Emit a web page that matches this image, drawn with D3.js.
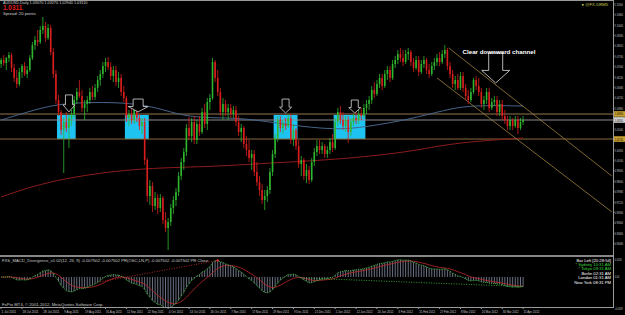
<!DOCTYPE html>
<html>
<head>
<meta charset="utf-8">
<script src="https://cdn.jsdelivr.net/npm/d3@7"></script>
<style>
  html, body { margin: 0; padding: 0; background: #000; overflow: hidden; }
  svg { display: block; font-family: "Liberation Sans", Arial, sans-serif; }
</style>
</head>
<body>
<div id="vis"></div>
<script>
'use strict'

////////////////////////////////////////
/////////////// Data ///////////////////
////////////////////////////////////////

// AUDUSD daily bars, 1 Jul 2011 -> 11 Apr 2012
const opens = [
  1.0720, 1.0749, 1.0727, 1.0764, 1.0785, 1.0691, 1.0618, 1.0574, 1.0661, 1.0705,
  1.0647, 1.0676, 1.0764, 1.0858, 1.0895, 1.0880, 1.0968, 1.0997, 1.0910, 1.0983,
  1.0807, 1.0647, 1.0457, 1.0369, 1.0238, 1.0296, 1.0253, 1.0326, 1.0355, 1.0457,
  1.0515, 1.0486, 1.0399, 1.0428, 1.0457, 1.0515, 1.0479, 1.0545, 1.0603, 1.0647,
  1.0705, 1.0734, 1.0698, 1.0632, 1.0676, 1.0588, 1.0618, 1.0515, 1.0472, 1.0326,
  1.0355, 1.0311, 1.0384, 1.0326, 1.0267, 1.0296, 1.0019, 0.9756, 0.9829, 0.9683,
  0.9742, 0.9669, 0.9742, 0.9581, 0.9523, 0.9566, 0.9669, 0.9727, 0.9785, 0.9902,
  1.0004, 1.0077, 1.0253, 1.0194, 1.0296, 1.0165, 1.0282, 1.0223, 1.0369, 1.0282,
  1.0442, 1.0472, 1.0734, 1.0618, 1.0515, 1.0369, 1.0428, 1.0369, 1.0399, 1.0355,
  1.0384, 1.0296, 1.0223, 1.0253, 1.0136, 1.0092, 1.0034, 1.0063, 0.9931, 0.9858,
  0.9800, 0.9727, 0.9756, 0.9800, 0.9931, 1.0063, 1.0180, 1.0311, 1.0253, 1.0282,
  1.0267, 1.0326, 1.0165, 1.0238, 1.0121, 0.9990, 1.0019, 0.9902, 0.9946, 0.9873,
  1.0004, 1.0077, 1.0121, 1.0092, 1.0121, 1.0063, 1.0092, 1.0150, 1.0107, 1.0296,
  1.0369, 1.0311, 1.0267, 1.0311, 1.0223, 1.0296, 1.0326, 1.0311, 1.0355, 1.0340,
  1.0399, 1.0428, 1.0457, 1.0530, 1.0501, 1.0574, 1.0618, 1.0559, 1.0647, 1.0676,
  1.0618, 1.0720, 1.0749, 1.0793, 1.0764, 1.0734, 1.0793, 1.0807, 1.0734, 1.0691,
  1.0749, 1.0661, 1.0720, 1.0749, 1.0676, 1.0647, 1.0705, 1.0734, 1.0764, 1.0734,
  1.0793, 1.0822, 1.0705, 1.0647, 1.0574, 1.0603, 1.0545, 1.0632, 1.0545, 1.0486,
  1.0457, 1.0515, 1.0603, 1.0559, 1.0515, 1.0428, 1.0457, 1.0515, 1.0399, 1.0442,
  1.0457, 1.0369, 1.0428, 1.0340, 1.0311, 1.0267, 1.0311, 1.0267, 1.0311, 1.0253,
  1.0296
];
const highs = [
  1.0764, 1.0785, 1.0771, 1.0807, 1.0800, 1.0720, 1.0676, 1.0691, 1.0720, 1.0734,
  1.0705, 1.0785, 1.0880, 1.0924, 1.0968, 1.0997, 1.1063, 1.1026, 1.1012, 1.1005,
  1.0837, 1.0676, 1.0494, 1.0384, 1.0326, 1.0369, 1.0348, 1.0384, 1.0486, 1.0545,
  1.0603, 1.0530, 1.0457, 1.0486, 1.0545, 1.0559, 1.0574, 1.0632, 1.0676, 1.0734,
  1.0764, 1.0771, 1.0734, 1.0705, 1.0705, 1.0661, 1.0647, 1.0559, 1.0486, 1.0384,
  1.0399, 1.0413, 1.0413, 1.0355, 1.0326, 1.0326, 1.0034, 0.9873, 0.9858, 0.9785,
  0.9771, 0.9771, 0.9756, 0.9639, 0.9596, 0.9698, 0.9756, 0.9815, 0.9931, 1.0034,
  1.0107, 1.0282, 1.0333, 1.0326, 1.0340, 1.0311, 1.0340, 1.0399, 1.0428, 1.0472,
  1.0501, 1.0764, 1.0749, 1.0676, 1.0545, 1.0472, 1.0457, 1.0428, 1.0428, 1.0413,
  1.0413, 1.0340, 1.0282, 1.0267, 1.0194, 1.0165, 1.0092, 1.0092, 1.0004, 0.9902,
  0.9844, 0.9800, 0.9829, 0.9961, 1.0092, 1.0209, 1.0340, 1.0340, 1.0311, 1.0326,
  1.0355, 1.0355, 1.0282, 1.0253, 1.0165, 1.0048, 1.0034, 0.9990, 0.9975, 1.0034,
  1.0107, 1.0165, 1.0165, 1.0150, 1.0136, 1.0121, 1.0180, 1.0209, 1.0326, 1.0399,
  1.0413, 1.0369, 1.0340, 1.0340, 1.0326, 1.0355, 1.0369, 1.0384, 1.0399, 1.0428,
  1.0457, 1.0486, 1.0559, 1.0588, 1.0603, 1.0647, 1.0647, 1.0676, 1.0705, 1.0705,
  1.0749, 1.0778, 1.0822, 1.0837, 1.0822, 1.0822, 1.0837, 1.0822, 1.0764, 1.0778,
  1.0778, 1.0749, 1.0778, 1.0764, 1.0720, 1.0734, 1.0764, 1.0793, 1.0807, 1.0822,
  1.0858, 1.0837, 1.0734, 1.0676, 1.0632, 1.0647, 1.0661, 1.0661, 1.0574, 1.0530,
  1.0545, 1.0618, 1.0632, 1.0618, 1.0545, 1.0486, 1.0545, 1.0545, 1.0472, 1.0486,
  1.0486, 1.0457, 1.0457, 1.0384, 1.0340, 1.0340, 1.0326, 1.0340, 1.0340, 1.0326,
  1.0340
];
const lows = [
  1.0691, 1.0705, 1.0676, 1.0734, 1.0661, 1.0588, 1.0545, 1.0559, 1.0618, 1.0632,
  1.0618, 1.0661, 1.0749, 1.0822, 1.0851, 1.0866, 1.0939, 1.0880, 1.0895, 1.0785,
  1.0618, 1.0428, 1.0340, 1.0202, 0.9924, 1.0223, 1.0107, 1.0267, 1.0326, 1.0428,
  1.0472, 1.0369, 1.0311, 1.0369, 1.0428, 1.0457, 1.0457, 1.0515, 1.0559, 1.0618,
  1.0661, 1.0676, 1.0603, 1.0588, 1.0559, 1.0545, 1.0486, 1.0442, 1.0296, 1.0267,
  1.0282, 1.0282, 1.0296, 1.0238, 1.0209, 0.9983, 0.9712, 0.9691, 0.9639, 0.9654,
  0.9625, 0.9639, 0.9552, 0.9493, 0.9362, 0.9537, 0.9625, 0.9683, 0.9756, 0.9873,
  0.9946, 1.0048, 1.0165, 1.0150, 1.0136, 1.0136, 1.0194, 1.0209, 1.0253, 1.0238,
  1.0384, 1.0457, 1.0588, 1.0486, 1.0340, 1.0311, 1.0340, 1.0311, 1.0326, 1.0326,
  1.0267, 1.0194, 1.0150, 1.0107, 1.0048, 1.0004, 0.9946, 0.9902, 0.9829, 0.9756,
  0.9698, 0.9654, 0.9712, 0.9771, 0.9902, 1.0034, 1.0150, 1.0223, 1.0209, 1.0238,
  1.0253, 1.0136, 1.0121, 1.0092, 0.9961, 0.9902, 0.9873, 0.9851, 0.9844, 0.9858,
  0.9975, 1.0048, 1.0063, 1.0063, 1.0034, 1.0034, 1.0063, 1.0077, 1.0092, 1.0267,
  1.0282, 1.0238, 1.0223, 1.0143, 1.0194, 1.0267, 1.0282, 1.0282, 1.0311, 1.0326,
  1.0355, 1.0384, 1.0428, 1.0472, 1.0486, 1.0545, 1.0530, 1.0545, 1.0603, 1.0588,
  1.0603, 1.0691, 1.0720, 1.0734, 1.0705, 1.0720, 1.0749, 1.0705, 1.0661, 1.0676,
  1.0632, 1.0647, 1.0691, 1.0647, 1.0618, 1.0632, 1.0676, 1.0705, 1.0705, 1.0720,
  1.0764, 1.0676, 1.0618, 1.0545, 1.0530, 1.0530, 1.0530, 1.0515, 1.0457, 1.0428,
  1.0442, 1.0501, 1.0530, 1.0486, 1.0399, 1.0384, 1.0428, 1.0369, 1.0384, 1.0413,
  1.0340, 1.0340, 1.0311, 1.0282, 1.0238, 1.0238, 1.0238, 1.0253, 1.0209, 1.0238,
  1.0275
];
const closes = [
  1.0749, 1.0727, 1.0764, 1.0785, 1.0691, 1.0618, 1.0574, 1.0661, 1.0705, 1.0647,
  1.0676, 1.0764, 1.0858, 1.0895, 1.0880, 1.0968, 1.0997, 1.0910, 1.0983, 1.0807,
  1.0647, 1.0457, 1.0369, 1.0238, 1.0296, 1.0253, 1.0326, 1.0355, 1.0457, 1.0515,
  1.0486, 1.0399, 1.0428, 1.0457, 1.0515, 1.0479, 1.0545, 1.0603, 1.0647, 1.0705,
  1.0734, 1.0698, 1.0632, 1.0676, 1.0588, 1.0618, 1.0515, 1.0472, 1.0326, 1.0355,
  1.0311, 1.0384, 1.0326, 1.0267, 1.0296, 1.0019, 0.9756, 0.9829, 0.9683, 0.9742,
  0.9669, 0.9742, 0.9581, 0.9523, 0.9566, 0.9669, 0.9727, 0.9785, 0.9902, 1.0004,
  1.0077, 1.0253, 1.0194, 1.0296, 1.0165, 1.0282, 1.0223, 1.0369, 1.0282, 1.0442,
  1.0472, 1.0734, 1.0618, 1.0515, 1.0369, 1.0428, 1.0369, 1.0399, 1.0355, 1.0384,
  1.0296, 1.0223, 1.0253, 1.0136, 1.0092, 1.0034, 1.0063, 0.9931, 0.9858, 0.9800,
  0.9727, 0.9756, 0.9800, 0.9931, 1.0063, 1.0180, 1.0311, 1.0253, 1.0282, 1.0267,
  1.0326, 1.0165, 1.0238, 1.0121, 0.9990, 1.0019, 0.9902, 0.9946, 0.9873, 1.0004,
  1.0077, 1.0121, 1.0092, 1.0121, 1.0063, 1.0092, 1.0150, 1.0107, 1.0296, 1.0369,
  1.0311, 1.0267, 1.0311, 1.0223, 1.0296, 1.0326, 1.0311, 1.0355, 1.0340, 1.0399,
  1.0428, 1.0457, 1.0530, 1.0501, 1.0574, 1.0618, 1.0559, 1.0647, 1.0676, 1.0618,
  1.0720, 1.0749, 1.0793, 1.0764, 1.0734, 1.0793, 1.0807, 1.0734, 1.0691, 1.0749,
  1.0661, 1.0720, 1.0749, 1.0676, 1.0647, 1.0705, 1.0734, 1.0764, 1.0734, 1.0793,
  1.0822, 1.0705, 1.0647, 1.0574, 1.0603, 1.0545, 1.0632, 1.0545, 1.0486, 1.0457,
  1.0515, 1.0603, 1.0559, 1.0515, 1.0428, 1.0457, 1.0515, 1.0399, 1.0442, 1.0457,
  1.0369, 1.0428, 1.0340, 1.0311, 1.0267, 1.0311, 1.0267, 1.0311, 1.0253, 1.0296,
  1.0311
];

// moving averages sampled along the chart: [bar index, price]
const maBlue = [[0, 1.0311], [10, 1.0369], [21, 1.0428], [35, 1.0442], [50, 1.0435], [60, 1.0399],
  [70, 1.0340], [80, 1.0326], [93, 1.0326], [110, 1.0275], [128, 1.0238], [140, 1.0260],
  [157, 1.0318], [170, 1.0384], [180, 1.0420], [200, 1.0413]];
const maRed = [[0, 0.9749], [19, 0.9873], [51, 0.9961], [80, 0.9968], [102, 0.9997],
  [127, 1.0019], [157, 1.0077], [172, 1.0143], [200, 1.0180]];

// horizontal levels
const levelTop = 1.0355;
const levelBottom = 1.0172;
const lastPrice = 1.0311;

// boxes: [from bar, to bar]
const boxes = [[22, 28], [48, 56], [105, 113], [128, 139]];
// arrows above the boxes: [centre bar, top price, bottom price]
const arrows = [[26, 1.0494, 1.0370], [52.5, 1.0464, 1.0370], [109, 1.0464, 1.0362], [135.5, 1.0457, 1.0362]];
const bigArrow = [189.5, 1.0800, 1.0581];

// channel: [bar, price] pairs
const channelUpper = [[171.5, 1.0837], [234, 0.9902]];
const channelLower = [[167, 1.0618], [234, 0.9640]];

// price axis labels
const priceTicks = [1.11560, 1.10800, 1.10040, 1.09280, 1.08520, 1.07760, 1.07000, 1.06240,
  1.05480, 1.04720, 1.03960, 1.03200, 1.02440, 1.01680, 1.00920, 1.00160, 0.99400,
  0.98640, 0.97880, 0.97120, 0.96360, 0.95600, 0.94840, 0.94080];
const macdLabels = [['0.0155', 0.0145], ['0.00', 0], ['-0.0159', -0.0255]];

// date axis labels: [bar index, text]
const dateTicks = [[0, "1 Jul 2011"], [8, "18 Jul 2011"], [16, "28 Jul 2011"], [24, "9 Aug 2011"],
  [32, "19 Aug 2011"], [40, "31 Aug 2011"], [48, "12 Sep 2011"], [56, "22 Sep 2011"],
  [64, "4 Oct 2011"], [72, "14 Oct 2011"], [80, "26 Oct 2011"], [88, "7 Nov 2011"],
  [96, "17 Nov 2011"], [104, "29 Nov 2011"], [112, "9 Dec 2011"], [120, "21 Dec 2011"],
  [128, "2 Jan 2012"], [136, "12 Jan 2012"], [144, "24 Jan 2012"], [152, "3 Feb 2012"],
  [160, "15 Feb 2012"], [168, "27 Feb 2012"], [176, "8 Mar 2012"], [184, "20 Mar 2012"],
  [192, "30 Mar 2012"], [200, "11 Apr 2012"]];

const clockLines = [["Bar Left [20:28:54]", "#ffffff"], ["* Sydney  10:31 AM", "#3cd23c"],
  ["* Tokyo  09:31 AM", "#3cd23c"], ["Berlin  02:31 AM", "#ffffff"],
  ["London  01:31 AM", "#ffffff"], ["New York  08:31 PM", "#ffffff"]];

////////////////////////////////////////
////////////// SVG Setup ///////////////
////////////////////////////////////////

const width = 625, height = 315;
const axisX = 613;
const main = { top: 1, bottom: 255 };
const sub = { top: 257, bottom: 307 };

const svg = d3.select('#vis').append('svg')
  .attr('width', width)
  .attr('height', height);

svg.append('rect').attr('width', width).attr('height', height).attr('fill', '#000');

const defs = svg.append('defs');
defs.append('clipPath').attr('id', 'clipMain')
  .append('rect').attr('x', 0).attr('y', main.top).attr('width', axisX).attr('height', main.bottom - main.top);
defs.append('clipPath').attr('id', 'clipSub')
  .append('rect').attr('x', 0).attr('y', sub.top).attr('width', axisX).attr('height', sub.bottom - sub.top);

////////////////////////////////////////
////////////// Scales //////////////////
////////////////////////////////////////

const x = d3.scaleLinear().domain([0, 200]).range([1.1, 523.1]);
const y = d3.scaleLinear().domain([0.9362, 1.1187]).range([250, 0]);

const candles = closes.map((c, i) => ({ i, o: opens[i], h: highs[i], l: lows[i], c }));

// MACD (12, 26, 9)
function ema(arr, n) {
  const k = 2 / (n + 1);
  const out = [arr[0]];
  for (let i = 1; i < arr.length; i++) out.push(arr[i] * k + out[i - 1] * (1 - k));
  return out;
}
const e12 = ema(closes, 12), e26 = ema(closes, 26);
const macd = closes.map((c, i) => e12[i] - e26[i]);
const signal = ema(macd, 9);

const ym = d3.scaleLinear().domain([-0.0226, 0.0145]).range([305, 259]);

////////////////////////////////////////
////////////// Main panel //////////////
////////////////////////////////////////

const gMain = svg.append('g').attr('clip-path', 'url(#clipMain)');

gMain.selectAll('rect.box')
  .data(boxes)
  .join('rect')
  .attr('class', 'box')
  .attr('x', d => x(d[0]) - 1.5)
  .attr('width', d => x(d[1]) - x(d[0]) + 3)
  .attr('y', y(levelTop))
  .attr('height', y(levelBottom) - y(levelTop))
  .attr('fill', '#1ec3f2');

// levels
gMain.append('line').attr('x1', 0).attr('x2', axisX)
  .attr('y1', y(levelTop)).attr('y2', y(levelTop))
  .attr('stroke', '#4a3a28').attr('stroke-width', 2);
gMain.append('line').attr('x1', 0).attr('x2', axisX)
  .attr('y1', y(lastPrice)).attr('y2', y(lastPrice))
  .attr('stroke', '#8c8c8c').attr('stroke-width', 1);
gMain.append('line').attr('x1', 0).attr('x2', axisX)
  .attr('y1', y(levelBottom)).attr('y2', y(levelBottom))
  .attr('stroke', '#8a6a3a').attr('stroke-width', 1);

// moving averages
const maLine = d3.line().x(d => x(d[0])).y(d => y(d[1])).curve(d3.curveBasis);
gMain.append('path').attr('d', maLine(maBlue)).attr('fill', 'none').attr('stroke', '#46648a').attr('stroke-width', 1);
gMain.append('path').attr('d', maLine(maRed)).attr('fill', 'none').attr('stroke', '#8c1c1c').attr('stroke-width', 1);

// channel
[channelUpper, channelLower].forEach(ch => {
  gMain.append('line')
    .attr('x1', x(ch[0][0])).attr('y1', y(ch[0][1]))
    .attr('x2', x(ch[1][0])).attr('y2', y(ch[1][1]))
    .attr('stroke', '#a08040').attr('stroke-width', 0.8);
});

// candles
const cg = gMain.selectAll('g.candle')
  .data(candles)
  .join('g')
  .attr('class', 'candle');

const bull = '#2fb62f', bear = '#d81e1e';
cg.append('line')
  .attr('x1', d => x(d.i)).attr('x2', d => x(d.i))
  .attr('y1', d => y(d.h)).attr('y2', d => y(d.l))
  .attr('stroke', d => d.c >= d.o ? bull : bear)
  .attr('stroke-width', 0.8);
cg.append('rect')
  .attr('x', d => x(d.i) - 0.8)
  .attr('width', 1.6)
  .attr('y', d => y(Math.max(d.o, d.c)))
  .attr('height', d => Math.max(0.8, Math.abs(y(d.o) - y(d.c))))
  .attr('fill', d => d.c >= d.o ? bull : bear);

// arrows
function arrowPath(cx, top, bottom, shaftW, headW) {
  const headH = (bottom - top) * 0.42;
  const neck = bottom - headH;
  return `M${cx - shaftW / 2},${top}H${cx + shaftW / 2}V${neck}H${cx + headW / 2}L${cx},${bottom}L${cx - headW / 2},${neck}H${cx - shaftW / 2}Z`;
}
gMain.selectAll('path.arrow')
  .data(arrows)
  .join('path')
  .attr('class', 'arrow')
  .attr('d', (d, k) => arrowPath(x(d[0]), y(d[1]), y(d[2]), k === 1 ? 10 : 7, k === 1 ? 20 : 12))
  .attr('fill', '#000')
  .attr('stroke', '#d8d8d8')
  .attr('stroke-width', 0.8);

gMain.append('path')
  .attr('d', arrowPath(x(bigArrow[0]), y(bigArrow[1]), y(bigArrow[2]), 14, 28))
  .attr('fill', '#000')
  .attr('stroke', '#e0e0e0')
  .attr('stroke-width', 0.8);

gMain.append('text')
  .attr('x', 499).attr('y', 53.5)
  .attr('text-anchor', 'middle')
  .attr('fill', '#fff')
  .attr('font-size', 6.2)
  .attr('font-weight', 'bold')
  .text('Clear downward channel');

////////////////////////////////////////
////////////// MACD panel //////////////
////////////////////////////////////////

const gSub = svg.append('g').attr('clip-path', 'url(#clipSub)');

gSub.selectAll('line.hist')
  .data(macd)
  .join('line')
  .attr('class', 'hist')
  .attr('x1', (d, i) => x(i)).attr('x2', (d, i) => x(i))
  .attr('y1', ym(0)).attr('y2', d => ym(d))
  .attr('stroke', '#b4bedc')
  .attr('stroke-width', 0.6);

const mline = d3.line().x((d, i) => x(i)).y(d => ym(d));
gSub.append('path').attr('d', mline(signal)).attr('fill', 'none').attr('stroke', '#c0282c').attr('stroke-width', 0.8);
gSub.append('path').attr('d', mline(macd)).attr('fill', 'none').attr('stroke', '#46c846').attr('stroke-width', 0.9).attr('stroke-dasharray', '1,1');

// divergence lines
gSub.append('line').attr('x1', x(37)).attr('y1', ym(macd[37])).attr('x2', x(83)).attr('y2', ym(macd[83]))
  .attr('stroke', '#d03030').attr('stroke-width', 0.8).attr('stroke-dasharray', '1,1.5');
gSub.append('circle').attr('cx', x(83)).attr('cy', ym(macd[83])).attr('r', 1.2).attr('fill', '#e03030');
gSub.append('line').attr('x1', x(115)).attr('y1', ym(macd[115])).attr('x2', x(200)).attr('y2', ym(macd[200]))
  .attr('stroke', '#3cc83c').attr('stroke-width', 0.8).attr('stroke-dasharray', '1,1.5');

svg.append('text').attr('x', 2).attr('y', 261.5).attr('fill', '#c8c8c8').attr('font-size', 4.2)
  .text('FXS_MACD_Divergence_v1.02(12, 26, 9) -0.007502 -0.007502 PR(OSC,LN,P) -0.007502 -0.007502 PR Close');
svg.append('text').attr('x', 2).attr('y', 305.5).attr('fill', '#c8c8c8').attr('font-size', 4.2)
  .text('FxPro MT4, \u00a9 2001-2012, MetaQuotes Software Corp.');

svg.selectAll('text.clock')
  .data(clockLines)
  .join('text')
  .attr('class', 'clock')
  .attr('x', 611).attr('y', (d, k) => 261.5 + k * 4.4)
  .attr('text-anchor', 'end')
  .attr('fill', d => d[1])
  .attr('font-size', 4.2)
  .text(d => d[0]);

////////////////////////////////////////
////////////// Frame & axes ////////////
////////////////////////////////////////

svg.append('line').attr('x1', 0).attr('x2', axisX).attr('y1', 0.5).attr('y2', 0.5).attr('stroke', '#9a9a9a');
svg.append('line').attr('x1', axisX + 0.5).attr('x2', axisX + 0.5).attr('y1', 0).attr('y2', sub.bottom + 1).attr('stroke', '#9a9a9a');
svg.append('line').attr('x1', 0).attr('x2', axisX).attr('y1', 256).attr('y2', 256).attr('stroke', '#b4b4b4').attr('stroke-width', 1.6);
svg.append('line').attr('x1', 0).attr('x2', axisX).attr('y1', sub.bottom + 0.5).attr('y2', sub.bottom + 0.5).attr('stroke', '#9a9a9a');

// axis labels are squeezed into the strip right of the axis
const fmt = d3.format('.5f');
function axisLabel(sel, yPos, txt, fill) {
  sel.append('text')
    .attr('transform', `translate(${axisX + 1.8},${yPos}) scale(0.56,1)`)
    .attr('fill', fill).attr('font-size', 4)
    .text(txt);
}
priceTicks.forEach(p => axisLabel(svg, y(p) + 1.5, fmt(p), '#c8c8c8'));
svg.selectAll('line.ptick')
  .data(priceTicks)
  .join('line')
  .attr('class', 'ptick')
  .attr('x1', axisX).attr('x2', axisX + 1.5)
  .attr('y1', d => y(d)).attr('y2', d => y(d))
  .attr('stroke', '#9a9a9a');

// level labels on the axis
[[levelTop, '#c8a032'], [lastPrice, '#d0d0d0'], [levelBottom, '#c8a032']].forEach(l => {
  svg.append('rect').attr('x', axisX + 1).attr('y', y(l[0]) - 2.8).attr('width', 11).attr('height', 5.6).attr('fill', l[1]);
  axisLabel(svg, y(l[0]) + 1.5, fmt(l[0]), '#000');
});

macdLabels.forEach(l => axisLabel(svg, ym(l[1]) + 1.5, l[0], '#c8c8c8'));

svg.selectAll('text.date')
  .data(dateTicks)
  .join('text')
  .attr('class', 'date')
  .attr('x', d => x(d[0]) + 0.5).attr('y', 312.5)
  .attr('fill', '#c8c8c8').attr('font-size', 3.8)
  .attr('textLength', d => d[1].length * 1.45).attr('lengthAdjust', 'spacingAndGlyphs')
  .text(d => d[1]);
svg.selectAll('line.dtick')
  .data(dateTicks)
  .join('line')
  .attr('class', 'dtick')
  .attr('x1', d => x(d[0])).attr('x2', d => x(d[0]))
  .attr('y1', sub.bottom + 0.5).attr('y2', sub.bottom + 2)
  .attr('stroke', '#9a9a9a');

// header texts
svg.append('text').attr('x', 3).attr('y', 4.4).attr('fill', '#d0d0d0').attr('font-size', 3.8)
  .text('AUDUSD,Daily  1.03070 1.03270 1.02940 1.03110');
svg.append('text').attr('x', 3).attr('y', 10.4).attr('fill', '#e01e1e').attr('font-size', 6.4).attr('font-weight', 'bold')
  .text('1.0311');
svg.append('text').attr('x', 3).attr('y', 14.6).attr('fill', '#d0d0d0').attr('font-size', 4.2)
  .text('Spread: 20 points');
svg.append('text').attr('x', 608).attr('y', 5.5).attr('text-anchor', 'end').attr('fill', '#c8c850').attr('font-size', 4.2)
  .text('\u25cf @FX-DRM5');
</script>
</body>
</html>
